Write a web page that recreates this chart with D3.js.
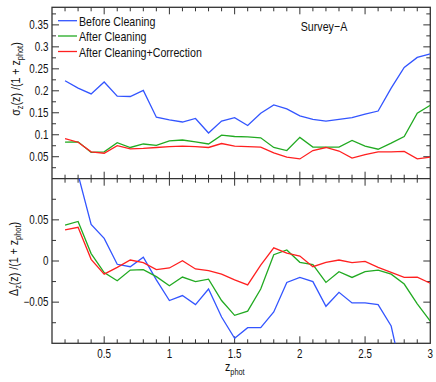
<!DOCTYPE html>
<html><head><meta charset="utf-8">
<script src="https://cdn.jsdelivr.net/npm/d3@7"></script>
<style>body{margin:0;background:#fff}svg{display:block}text{font-family:"Liberation Sans",Arial,sans-serif;fill:#111}</style>
</head><body><svg id="c" width="436" height="382"></svg>
<script>
const zphot = [0.2,0.3,0.4,0.5,0.6,0.7,0.8,0.9,1.0,1.1,1.2,1.3,1.4,1.5,1.6,1.7,1.8,1.9,2.0,2.1,2.2,2.3,2.4,2.5,2.6,2.7,2.8,2.9,3.0];
const seriesNames = ["Before Cleaning","After Cleaning","After Cleaning+Correction"];
const seriesColors = ["#3355ff","#22aa22","#ff2020"];
// top panel: sigma_z/(1+z)
const sigBefore = [0.223,0.206,0.193,0.220,0.188,0.187,0.201,0.140,0.134,0.129,0.137,0.104,0.131,0.139,0.121,0.149,0.168,0.159,0.143,0.135,0.131,0.135,0.139,0.147,0.154,0.206,0.253,0.276,0.284];
const sigAfter = [0.083,0.084,0.060,0.061,0.082,0.071,0.079,0.076,0.086,0.088,0.084,0.079,0.099,0.096,0.095,0.093,0.071,0.064,0.094,0.072,0.072,0.072,0.087,0.074,0.067,0.081,0.096,0.149,0.167];
const sigCorr = [0.091,0.083,0.061,0.058,0.075,0.068,0.069,0.071,0.073,0.074,0.073,0.071,0.080,0.074,0.073,0.072,0.059,0.049,0.045,0.064,0.071,0.063,0.047,0.055,0.061,0.061,0.062,0.045,0.049];
// bottom panel: Delta_z/(1+z)
const delBefore = [0.125,0.105,0.0445,0.0275,-0.004,-0.007,0.0045,-0.023,-0.048,-0.042,-0.053,-0.034,-0.068,-0.094,-0.081,-0.081,-0.062,-0.026,-0.020,-0.025,-0.055,-0.038,-0.051,-0.051,-0.053,-0.079,-0.150,-0.165,-0.175];
const delAfter = [0.0437,0.048,0.009,-0.014,-0.024,-0.011,-0.0105,-0.019,-0.030,-0.0195,-0.025,-0.022,-0.048,-0.066,-0.061,-0.034,0.0077,0.0134,-0.0016,-0.0045,-0.026,-0.013,-0.020,-0.013,-0.011,-0.016,-0.028,-0.052,-0.073];
const delCorr = [0.0377,0.041,0.002,-0.016,-0.0077,0.0012,-0.002,-0.0105,-0.0085,0.0004,-0.0097,-0.0118,-0.016,-0.023,-0.029,-0.0049,0.016,0.0097,0.006,-0.0069,-0.0016,0.0012,-0.002,-0.0004,-0.0077,-0.0138,-0.020,-0.0195,-0.027];
const xTickLabels = ["0.5","1","1.5","2","2.5","3"];
const xTicks = [0.5,1,1.5,2,2.5,3];
const topTicks = [0.05,0.1,0.15,0.2,0.25,0.3,0.35];
const topTickLabels = ["0.05","0.1","0.15","0.2","0.25","0.3","0.35"];
const botTicks = [-0.05,0,0.05];
const botTickLabels = ["\u22120.05","0","0.05"];

const svg = d3.select("#c");
const L=52, R=430.3, T=7.3, M=178.7, B=343.3;
const x = d3.scaleLinear().domain([0.1,3]).range([L,R]);
const yT = d3.scaleLinear().domain([0,0.39]).range([M,T]);
const yB = d3.scaleLinear().domain([-0.1,0.1]).range([B,M]);
const axisColor="#333";
const SX=0.82; // condensed look

const defs = svg.append("defs");
defs.append("clipPath").attr("id","clipT").append("rect").attr("x",L).attr("y",T).attr("width",R-L).attr("height",M-T);
defs.append("clipPath").attr("id","clipB").append("rect").attr("x",L).attr("y",M).attr("width",R-L).attr("height",B-M);

const xMinor = d3.range(2,30).map(i=>+(i*0.1).toFixed(1));
function ticksX(y, dir){
  const g = svg.append("g");
  xMinor.forEach(v=>{
    const major = Math.abs(v*2-Math.round(v*2))<1e-6;
    const len = major?7:4;
    g.append("line").attr("x1",x(v)).attr("x2",x(v)).attr("y1",y).attr("y2",y+dir*len)
      .attr("stroke",axisColor).attr("stroke-width",1);
  });
}
function ticksY(scale, lo, hi, xpos, dir){
  const g = svg.append("g");
  for(let k=Math.ceil(lo/0.025-1e-9); k*0.025<=hi+1e-9; k++){
    const v=k*0.025; const major = (k%2===0);
    const yy=scale(v);
    if(Math.abs(yy-M)<1 || yy<T+0.5 || yy>B-0.5) continue;
    g.append("line").attr("x1",xpos).attr("x2",xpos+dir*(major?7:4)).attr("y1",yy).attr("y2",yy)
      .attr("stroke",axisColor).attr("stroke-width",1);
  }
}
ticksX(T,1); ticksX(M,-1); ticksX(M,1); ticksX(B,-1);
ticksY(yT,0,0.39,L,1); ticksY(yT,0,0.39,R,-1);
ticksY(yB,-0.1,0.1,L,1); ticksY(yB,-0.1,0.1,R,-1);

svg.append("rect").attr("x",L).attr("y",T).attr("width",R-L).attr("height",B-T).attr("fill","none").attr("stroke",axisColor).attr("stroke-width",1.3);
svg.append("line").attr("x1",L).attr("x2",R).attr("y1",M).attr("y2",M).attr("stroke",axisColor).attr("stroke-width",1.3);

// condensed text helper
function ctext(px,py,str,size,anchor,rot){
  const g = svg.append("g").attr("transform",`translate(${px},${py})${rot?" rotate(-90)":""} scale(${SX},1)`);
  return g.append("text").attr("x",0).attr("y",0).attr("text-anchor",anchor||"start").attr("font-size",size).text(str);
}
// tick labels
topTicks.forEach((d,i)=>ctext(48.5,yT(d)+4.2,topTickLabels[i],12,"end"));
botTicks.forEach((d,i)=>ctext(48.5,yB(d)+4.2,botTickLabels[i],12,"end"));
xTicks.forEach((d,i)=>ctext(x(d),357.5,xTickLabels[i],12,"middle"));

// lines
const line = (ys,scale)=>d3.line().x((d,i)=>x(zphot[i])).y(d=>scale(d))(ys);
const topData=[sigBefore,sigAfter,sigCorr], botData=[delBefore,delAfter,delCorr];
topData.forEach((s,i)=>svg.append("path").attr("d",line(s,yT)).attr("fill","none").attr("stroke",seriesColors[i]).attr("stroke-width",1.3).attr("clip-path","url(#clipT)"));
botData.forEach((s,i)=>svg.append("path").attr("d",line(s,yB)).attr("fill","none").attr("stroke",seriesColors[i]).attr("stroke-width",1.3).attr("clip-path","url(#clipB)"));

// legend
const legY=[20.7,36,51.5];
seriesNames.forEach((n,i)=>{
  svg.append("line").attr("x1",58).attr("x2",77).attr("y1",legY[i]).attr("y2",legY[i]).attr("stroke",seriesColors[i]).attr("stroke-width",1.3);
  ctext(79,legY[i]+5.3,n,13,"start");
});
ctext(324,30.5,"Survey\u2212A",13,"middle");

// axis labels
function ylab(tx,ty,sym){
  const t = ctext(tx,ty,"",13,"middle",true);
  t.append("tspan").text(sym);
  t.append("tspan").attr("font-size",9).attr("dy",3).text("z");
  t.append("tspan").attr("dy",-3).text("(z) /(1 + z");
  t.append("tspan").attr("font-size",9).attr("dy",3).text("phot");
  t.append("tspan").attr("dy",-3).text(")");
}
ylab(19.5,79,"\u03c3");
ylab(17.5,259,"\u0394");
const xl = ctext(225,371,"",13,"start");
xl.append("tspan").text("z");
xl.append("tspan").attr("font-size",9).attr("dy",4).text("phot");
</script></body></html>
